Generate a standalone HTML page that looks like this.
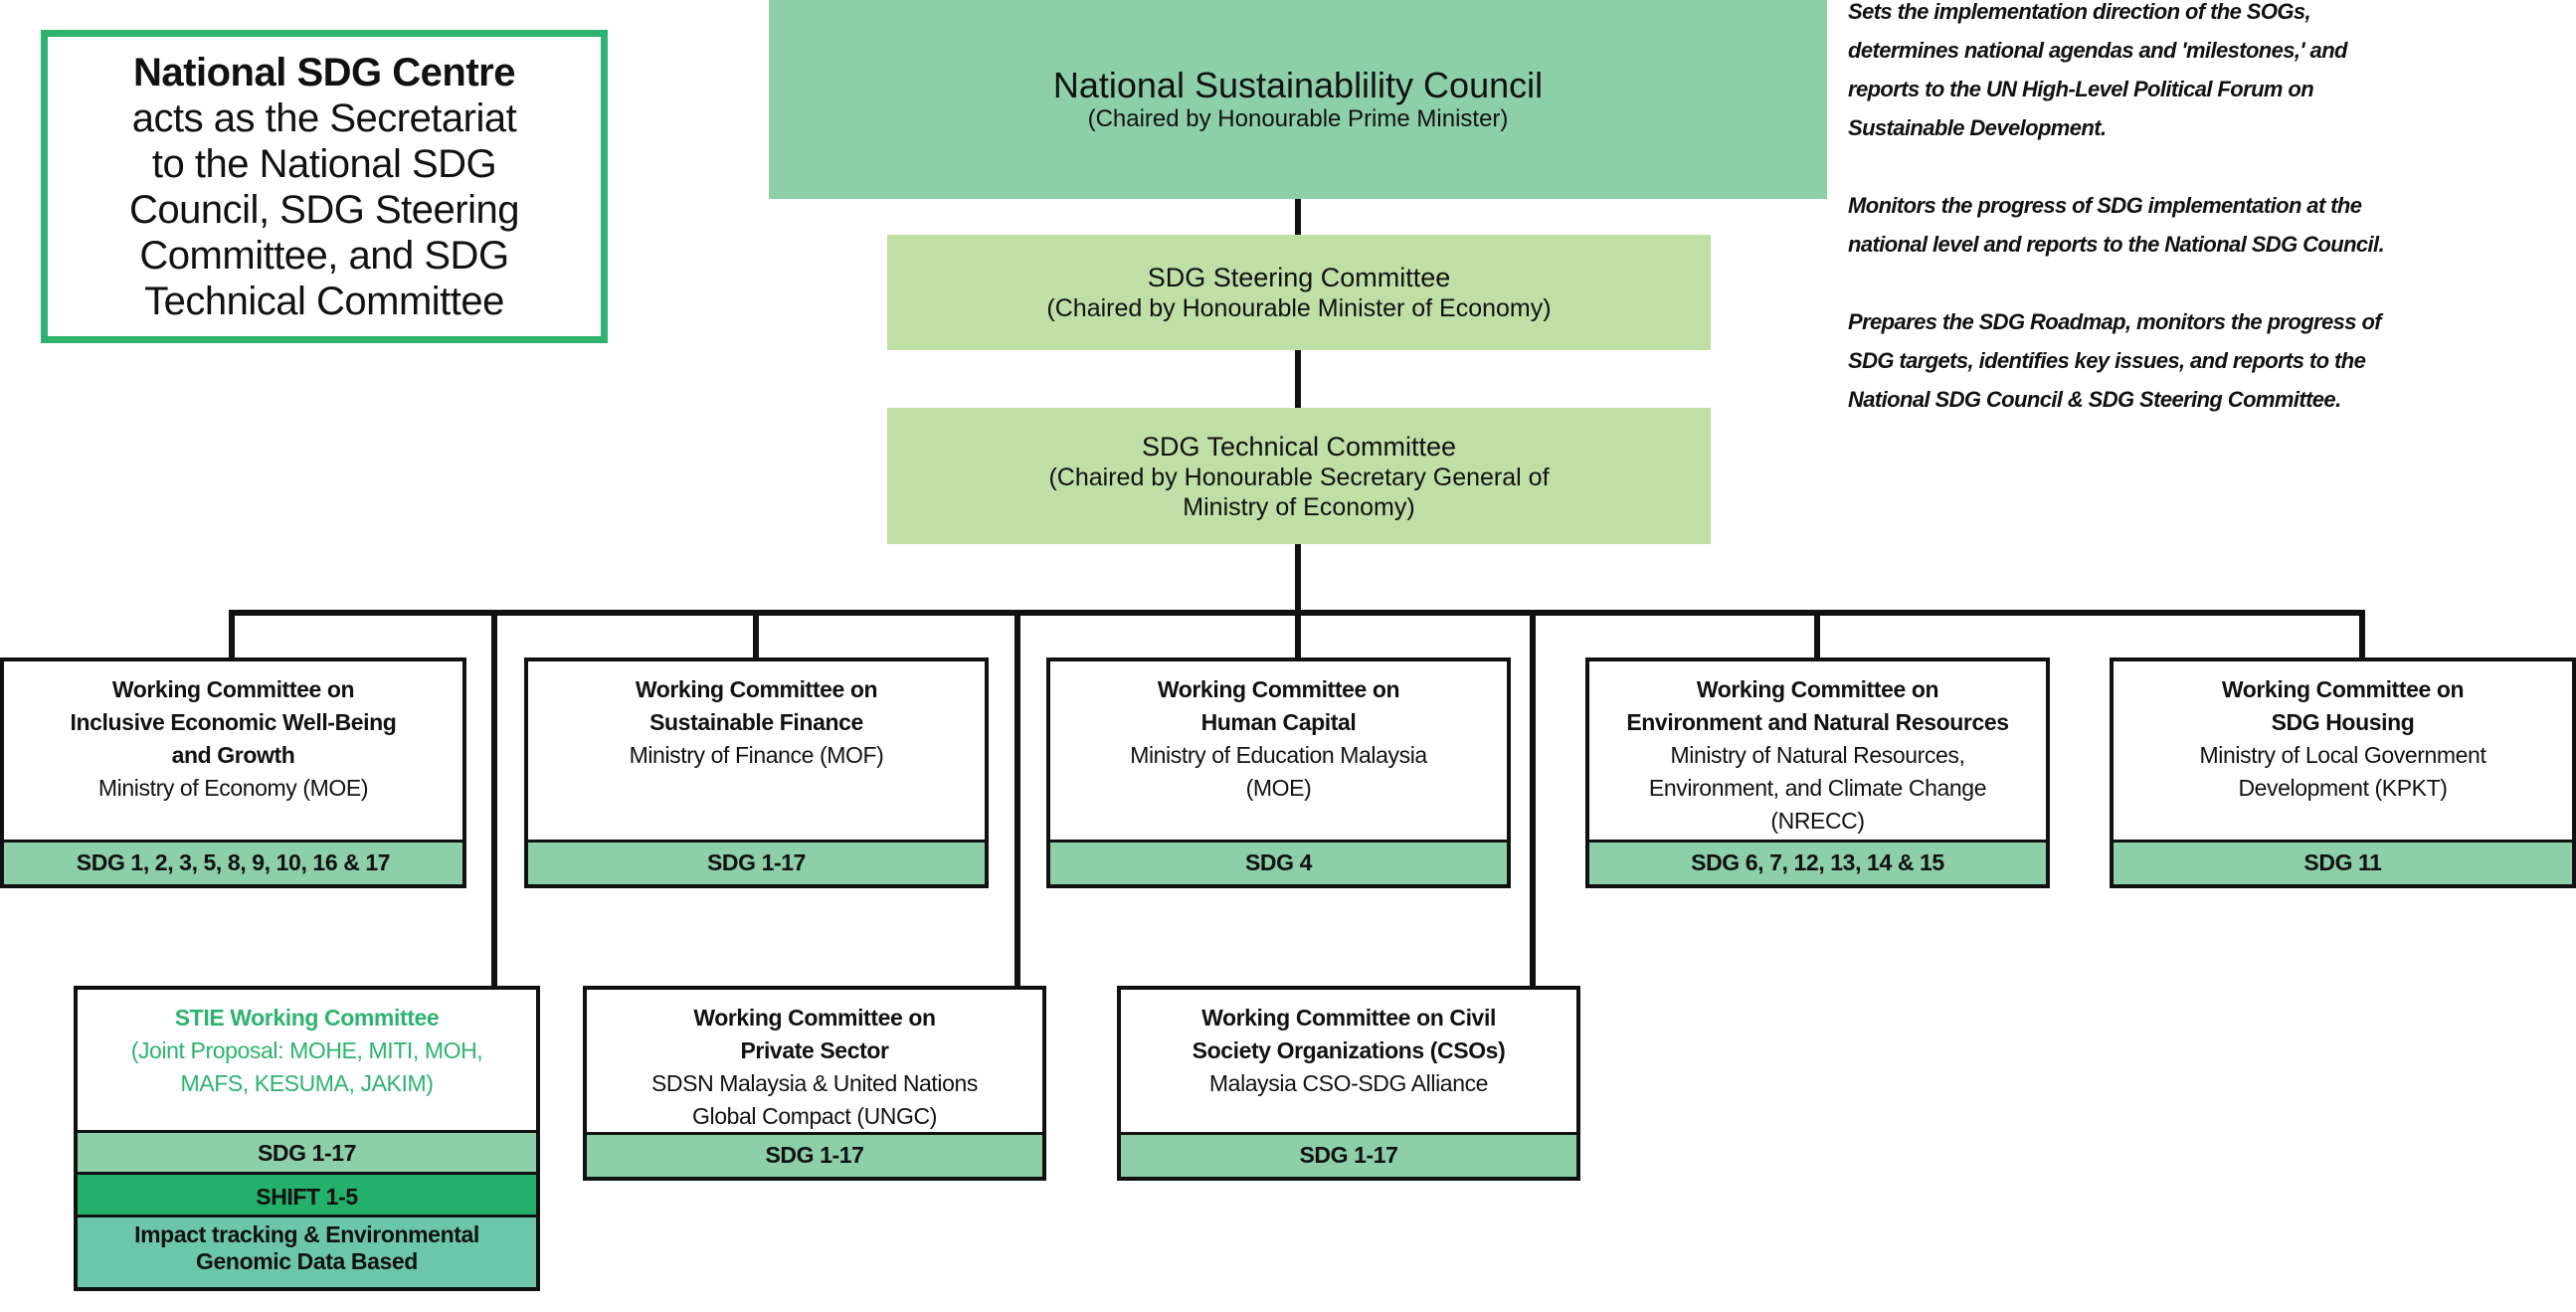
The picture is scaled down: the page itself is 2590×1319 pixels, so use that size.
<!DOCTYPE html>
<html><head><meta charset="utf-8"><style>
body{margin:0;width:2590px;height:1319px;position:relative;background:#fff;font-family:"Liberation Sans",sans-serif;color:#111;overflow:hidden}
.a{position:absolute;box-sizing:border-box}
.c{display:flex;flex-direction:column;align-items:center;justify-content:center;text-align:center}
.wc{position:absolute;box-sizing:border-box;border:4px solid #111;background:#fff;text-align:center;font-size:23px;line-height:33px;letter-spacing:-0.4px;padding-top:12px}
.wc b{display:block}
.band{position:absolute;left:0;right:0;bottom:0;height:42px;background:#8ccfa8;border-top:3px solid #111;font-weight:bold;font-size:23px;line-height:40px;letter-spacing:-0.4px}
.rt{position:absolute;left:1858px;font-style:italic;font-weight:bold;font-size:22px;line-height:39px;letter-spacing:-0.6px;color:#111}
</style></head><body>
<svg class="a" style="left:0;top:0" width="2590" height="1319">
<g stroke="#111" stroke-width="6" fill="none">
<line x1="1305" y1="200" x2="1305" y2="236"/>
<line x1="1305" y1="352" x2="1305" y2="410"/>
<line x1="1305" y1="547" x2="1305" y2="616"/>
<line x1="230" y1="616" x2="2378" y2="616"/>
<line x1="233" y1="616" x2="233" y2="661"/>
<line x1="760" y1="616" x2="760" y2="661"/>
<line x1="1305" y1="616" x2="1305" y2="661"/>
<line x1="1827" y1="616" x2="1827" y2="661"/>
<line x1="2375" y1="616" x2="2375" y2="661"/>
<line x1="497" y1="616" x2="497" y2="993"/>
<line x1="1023" y1="616" x2="1023" y2="993"/>
<line x1="1541" y1="616" x2="1541" y2="993"/>
</g></svg>

<div class="a c" style="left:41px;top:30px;width:570px;height:315px;border:7px solid #2db36f;font-size:40px;line-height:46px;letter-spacing:-0.5px">
<div><b>National SDG Centre</b><br>acts as the Secretariat<br>to the National SDG<br>Council, SDG Steering<br>Committee, and SDG<br>Technical Committee</div></div>

<div class="a c" style="left:773px;top:0;width:1064px;height:200px;background:#8ccfa8">
<div style="font-size:36px;line-height:40px">National Sustainablility Council</div>
<div style="font-size:24px;line-height:28px">(Chaired by Honourable Prime Minister)</div></div>

<div class="a c" style="left:892px;top:236px;width:828px;height:116px;background:#c0dfa6">
<div style="font-size:27px;line-height:32px">SDG Steering Committee</div>
<div style="font-size:25px;line-height:30px">(Chaired by Honourable Minister of Economy)</div></div>

<div class="a c" style="left:892px;top:410px;width:828px;height:137px;background:#c0dfa6">
<div style="font-size:27px;line-height:32px">SDG Technical Committee</div>
<div style="font-size:25px;line-height:30px">(Chaired by Honourable Secretary General of<br>Ministry of Economy)</div></div>

<div class="rt" style="top:-8px">Sets the implementation direction of the SOGs,<br>determines national agendas and 'milestones,' and<br>reports to the UN High-Level Political Forum on<br>Sustainable Development.</div>
<div class="rt" style="top:187px">Monitors the progress of SDG implementation at the<br>national level and reports to the National SDG Council.</div>
<div class="rt" style="top:304px">Prepares the SDG Roadmap, monitors the progress of<br>SDG targets, identifies key issues, and reports to the<br>National SDG Council &amp; SDG Steering Committee.</div>

<div class="wc" style="left:0;top:661px;width:469px;height:232px"><b>Working Committee on<br>Inclusive Economic Well-Being<br>and Growth</b>Ministry of Economy (MOE)<div class="band">SDG 1, 2, 3, 5, 8, 9, 10, 16 &amp; 17</div></div>
<div class="wc" style="left:527px;top:661px;width:467px;height:232px"><b>Working Committee on<br>Sustainable Finance</b>Ministry of Finance (MOF)<div class="band">SDG 1-17</div></div>
<div class="wc" style="left:1052px;top:661px;width:467px;height:232px"><b>Working Committee on<br>Human Capital</b>Ministry of Education Malaysia<br>(MOE)<div class="band">SDG 4</div></div>
<div class="wc" style="left:1594px;top:661px;width:467px;height:232px"><b>Working Committee on<br>Environment and Natural Resources</b>Ministry of Natural Resources,<br>Environment, and Climate Change<br>(NRECC)<div class="band">SDG 6, 7, 12, 13, 14 &amp; 15</div></div>
<div class="wc" style="left:2121px;top:661px;width:469px;height:232px"><b>Working Committee on<br>SDG Housing</b>Ministry of Local Government<br>Development (KPKT)<div class="band">SDG 11</div></div>

<div class="wc" style="left:74px;top:991px;width:469px;height:307px;color:#2db36f"><b>STIE Working Committee</b>(Joint Proposal: MOHE, MITI, MOH,<br>MAFS, KESUMA, JAKIM)
<div class="band" style="bottom:113px;color:#111">SDG 1-17</div>
<div class="band" style="bottom:66px;height:47px;background:#22b06a;color:#111;line-height:45px">SHIFT 1-5</div>
<div class="band" style="bottom:0;height:66px;background:#6cc6aa;color:#111;line-height:27px;padding-top:4px">Impact tracking &amp; Environmental<br>Genomic Data Based</div></div>
<div class="wc" style="left:586px;top:991px;width:466px;height:196px"><b>Working Committee on<br>Private Sector</b>SDSN Malaysia &amp; United Nations<br>Global Compact (UNGC)<div class="band">SDG 1-17</div></div>
<div class="wc" style="left:1123px;top:991px;width:466px;height:196px"><b>Working Committee on Civil<br>Society Organizations (CSOs)</b>Malaysia CSO-SDG Alliance<div class="band">SDG 1-17</div></div>
</body></html>
